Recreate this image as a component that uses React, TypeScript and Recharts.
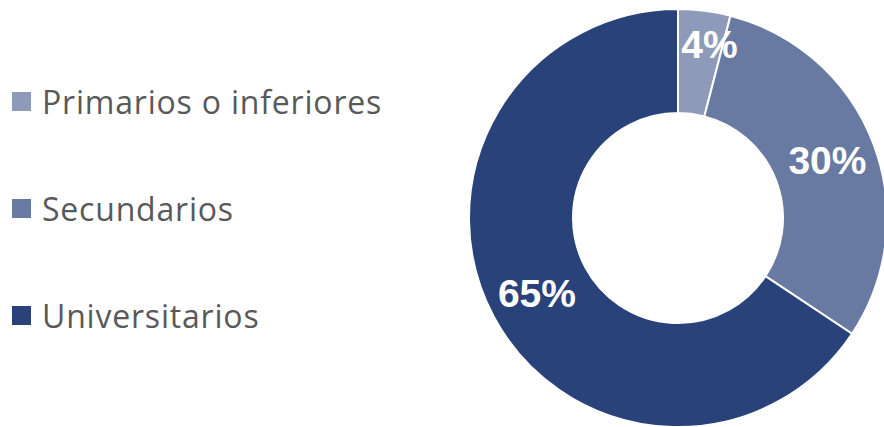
import { PieChart, Pie, Cell } from 'recharts'

const categories = ['Primarios o inferiores', 'Secundarios', 'Universitarios']
const shares = [4, 30, 65]
const colors = ['#8d9ab9', '#6879a2', '#29427a']

const data = categories.map((name, i) => ({ name, value: shares[i] }))

const RAD = Math.PI / 180

function renderLabel(props: any) {
  const { cx, cy, midAngle, percent, index } = props
  // small slice label sits a bit further out, like the original
  const r = percent < 0.1 ? 176 : 160
  const angle = percent < 0.1 ? midAngle - 3 : midAngle
  const x = cx + r * Math.cos(-angle * RAD)
  const y = cy + r * Math.sin(-angle * RAD)
  return (
    <text
      x={x}
      y={y}
      fill="#ffffff"
      textAnchor="middle"
      dominantBaseline="central"
      fontFamily="'Liberation Sans', Arial, sans-serif"
      fontWeight="bold"
      fontSize={39}
    >
      {`${shares[index]}%`}
    </text>
  )
}

function ChartLegend() {
  return (
    <div style={{ position: 'absolute', left: 0, top: 48 }}>
      {categories.map((name, i) => (
        <div
          key={name}
          style={{
            display: 'flex',
            alignItems: 'center',
            height: 107,
            fontFamily: "'Open Sans', sans-serif",
            fontSize: 32,
            letterSpacing: 0.8,
            color: '#595959',
          }}
        >
          <span
            style={{
              display: 'inline-block',
              width: 19,
              height: 19,
              background: colors[i],
              marginLeft: 12,
              marginRight: 11,
            }}
          />
          <span>{name}</span>
        </div>
      ))}
    </div>
  )
}

export default function App() {
  return (
    <div style={{ position: 'absolute', left: 0, top: 0, width: 884, height: 427, background: '#fff' }}>
      <PieChart width={884} height={427} margin={{ top: 0, right: 0, bottom: 0, left: 0 }}>
        <Pie
          data={data}
          dataKey="value"
          nameKey="name"
          cx={678}
          cy={218}
          innerRadius={105}
          outerRadius={209}
          startAngle={90}
          endAngle={-270}
          stroke="#ffffff"
          strokeWidth={2}
          label={renderLabel}
          labelLine={false}
          isAnimationActive={false}
        >
          {data.map((d, i) => (
            <Cell key={d.name} fill={colors[i]} />
          ))}
        </Pie>
      </PieChart>
      <ChartLegend />
    </div>
  )
}
